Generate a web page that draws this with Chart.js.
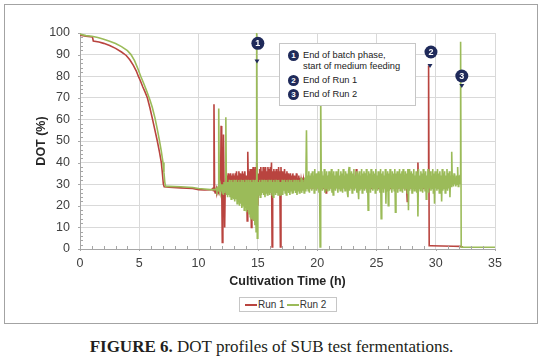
<!DOCTYPE html>
<html><head><meta charset="utf-8">
<script src="https://cdn.jsdelivr.net/npm/chart.js@4.4.1/dist/chart.umd.min.js"></script>
<style>
html,body{margin:0;padding:0;background:#fff;}
body{width:543px;height:356px;position:relative;overflow:hidden;font-family:"Liberation Sans",Arial,sans-serif;}
#frame{position:absolute;left:4px;top:4px;width:532px;height:318px;border:1px solid #a3a3a3;}
#c{position:absolute;left:0;top:0;}
#note{position:absolute;left:274px;top:38px;width:137px;height:63px;box-sizing:border-box;border:1px solid #c6c6c6;background:#fff;font-size:9.3px;color:#222;}
#note .dot{position:absolute;width:11px;height:11px;border-radius:50%;background:#1f2a5a;color:#fff;font-weight:bold;font-size:8px;line-height:11px;text-align:center;}
#note .t{position:absolute;left:23px;line-height:11px;white-space:nowrap;}
#legend{position:absolute;left:234px;top:292px;width:98px;height:15px;box-sizing:border-box;border:1px solid #c6c6c6;background:#fff;font-size:10px;color:#333;display:flex;align-items:center;padding-left:5px;white-space:nowrap;}
#legend .ln{display:inline-block;width:12px;height:2px;margin-right:1px;}
#caption{position:absolute;left:0;top:338px;width:543px;text-align:center;font-family:"Liberation Serif","Times New Roman",serif;font-size:17px;line-height:17px;color:#231f20;white-space:nowrap;}
</style>
</head><body>
<div id="frame">
  <canvas id="c" width="532" height="318"></canvas>
  <div id="note">
    <span class="dot" style="left:8px;top:6px;">1</span>
    <span class="t" style="top:6px;">End of batch phase,</span>
    <span class="t" style="top:17px;">start of medium feeding</span>
    <span class="dot" style="left:8px;top:31px;">2</span>
    <span class="t" style="top:31px;">End of Run 1</span>
    <span class="dot" style="left:8px;top:45px;">3</span>
    <span class="t" style="top:45px;">End of Run 2</span>
  </div>
  <div id="legend"><span class="ln" style="background:#b9443f"></span>Run 1<span class="ln" style="background:#9bbb59;margin-left:2px"></span>Run 2</div>
</div>
<div id="caption"><b>FIGURE 6.</b> DOT profiles of SUB test fermentations.</div>
<script>
// ---- data ----
const xTicks = [0, 5, 10, 15, 20, 25, 30, 35];
const yTicks = [0, 10, 20, 30, 40, 50, 60, 70, 80, 90, 100];

// Run 1: batch phase (explicit samples)
const run1Time = [0, 0.5, 1.05, 1.12, 1.6, 2.0, 2.5, 3.0, 3.5, 3.9, 4.2, 4.5, 4.75, 4.92, 5.1, 5.3, 5.5, 5.68, 5.9, 6.1, 6.3, 6.52, 6.7, 6.86, 6.95, 7.03, 7.1, 7.5, 8.5, 9.5, 10, 10.5, 11.1];
const run1Dot  = [99, 98.5, 98.2, 96.3, 95.8, 95.2, 94.2, 92.9, 91.2, 89.6, 87.6, 85, 82.4, 80, 77.8, 75, 72.5, 70, 65.3, 60.5, 55.5, 50, 45, 40, 35, 30, 28.8, 28.6, 28.3, 28, 27.5, 27.3, 27.5];
// Run 1: logged every 0.05 h from 11.2 h (one row per hour)
const run1LogStart = 11.2;
const run1LogStep = 0.05;
const run1Log = [
  /*11.2*/ 28,27,67,27,26,27,28,26,27,28, 27,28,30,27,57,31,
  /*12*/ 3,30,53,28,10,30,33,28,34,30, 35,29,34,30,35,31,34,30,35,31,
  /*13*/ 34,30,35,31,36,30,34,31,36,30, 35,31,34,30,36,31,35,30,36,31,
  /*14*/ 34,30,13,45,30,36,31,37,29,10, 37,28,38,29,37,30,38,29,40,30,
  /*15*/ 20,35,29,37,30,38,31,36,30,38, 31,37,30,38,31,36,30,38,31,37,
  /*16*/ 30,38,31,40,1,36,31,37,30,36, 31,37,30,36,31,38,30,36,1,38,
  /*17*/ 30,36,31,35,30,37,31,35,30,36, 31,35,30,34,31,35,30,34,31,35,
  /*18*/ 29,34,30,33,29,35,30,33,29,34, 30,33,29,32,30,33,29,32,30,33,
  /*19*/ 29,32,28,33,29,32,28,33,29,32, 28,33,29,32,28,33,29,32,28,33,
  /*20*/ 29,32,28,33,29,32,28,33,29,32, 28,33,29,32,28,26,32,29,33,28,
  /*21*/ 32,29,33,28,32,29,33,28,32,29, 33,28,32,29,33,28,32,29,33,28,
  /*22*/ 32,29,33,28,32,29,33,28,32,29, 33,28,32,29,33,28,32,29,33,28,
  /*23*/ 32,29,33,28,32,29,37,28,32,29, 33,28,32,29,33,28,32,29,33,28,
  /*24*/ 32,29,33,28,32,29,33,28,32,29, 33,28,32,29,33,28,32,29,33,28,
  /*25*/ 32,29,33,28,32,29,33,28,32,29, 33,28,32,29,33,28,32,29,33,28,
  /*26*/ 32,29,33,28,32,29,33,28,32,29, 33,28,32,29,33,28,32,29,33,28,
  /*27*/ 32,29,33,28,32,29,33,28,32,29, 33,28,22,29,33,28,32,29,33,28,
  /*28*/ 32,29,33,28,32,29,33,28,32,29, 40,28,32,29,33,28,32,29,33,28,
  /*29*/ 32,29,33,28,32,29,30,31,85,1.5
];
const run1TailTime = [29.6, 31.5, 32.1, 32.3];
const run1TailDot  = [1.5, 1.3, 1.2, 0.8];

// Run 2: batch phase (explicit samples)
const run2Time = [0, 0.5, 1.0, 1.5, 2.0, 2.5, 3.0, 3.5, 4.0, 4.3, 4.6, 4.9, 5.12, 5.35, 5.6, 5.9, 6.1, 6.33, 6.5, 6.69, 6.85, 7.0, 7.08, 7.15, 7.22, 7.5, 8.5, 9.5, 10, 10.5, 11, 11.4];
const run2Dot  = [99.5, 98.8, 98.5, 97.9, 97.1, 96.2, 95.1, 93.7, 91.8, 90, 87.2, 83.2, 80, 77, 73.5, 69, 65.5, 60.5, 56, 50.5, 45.5, 40, 35.5, 31, 29, 29, 28.8, 28.5, 28, 27.8, 27.5, 27.5];
// Run 2: logged every 0.05 h from 11.5 h (one row per hour)
const run2LogStart = 11.5;
const run2LogStep = 0.05;
const run2Log = [
  /*11.5*/ 28,27,28,27,65,27,26,29,27,30,
  /*12*/ 26,30,25,31,26,30,61,25,31,24, 31,25,32,24,31,23,32,24,31,23,
  /*13*/ 32,22,31,23,32,21,31,22,32,20, 31,21,32,19,31,20,32,18,31,19,
  /*14*/ 32,17,31,18,32,16,31,15,32,14, 31,15,32,13,31,11,32,8,100,5,
  /*15*/ 22,31,25,32,24,31,25,32,26,31, 25,32,24,31,26,32,25,31,26,32,
  /*16*/ 25,31,26,32,25,31,24,32,26,31, 25,32,26,31,25,32,26,31,25,31,
  /*17*/ 26,32,25,31,27,32,26,31,25,32, 27,31,26,32,25,31,27,32,26,31,
  /*18*/ 26,32,27,31,26,32,25,31,27,32, 26,31,27,33,26,32,27,31,26,33,
  /*19*/ 27,33,55,28,34,27,36,26,34,28, 35,27,36,28,34,26,37,28,35,27,
  /*20*/ 35,28,36,26,35,1,75,28,36,27, 34,28,37,26,35,28,36,27,34,28,
  /*21*/ 36,27,35,28,37,26,35,25,36,28, 34,27,36,28,35,26,37,28,34,27,
  /*22*/ 36,28,35,26,37,28,34,27,36,28, 35,26,24,36,38,27,35,28,36,26,
  /*23*/ 35,28,37,27,34,28,36,26,35,28, 23,36,27,34,28,37,26,35,28,36,
  /*24*/ 27,35,28,37,26,34,18,36,28,35, 26,37,28,34,27,36,28,35,26,37,
  /*25*/ 28,34,27,36,28,35,26,37,14,35, 28,36,26,34,28,37,21,35,27,36,
  /*26*/ 20,35,27,37,28,34,26,36,28,35, 27,37,17,35,28,36,26,34,28,37,
  /*27*/ 27,35,28,36,26,37,28,34,27,36, 28,35,26,37,18,37,27,35,28,36,
  /*28*/ 26,35,28,37,27,34,28,36,26,35, 15,37,28,34,27,36,28,35,26,37,
  /*29*/ 28,35,27,36,23,34,28,37,26,35, 28,36,27,34,28,37,26,35,21,36,
  /*30*/ 28,34,27,37,28,35,26,36,28,34, 22,37,27,35,28,36,26,34,28,37,
  /*31*/ 27,35,28,36,24,34,29,45,30,34, 29,35,30,33,29,34,30,38,29,34,
  /*32*/ 30,34,96,0.8
];
const run2TailTime = [35];
const run2TailDot  = [0.8];

// event markers (data coordinates)
const markerLabels = ['1', '2', '3'];
const markerTime = [15.0, 29.6, 32.2];
const markerDot  = [95.2, 91.2, 80.1];
const arrowTime  = [14.93, 29.52, 32.2];
const arrowDot   = [86.4, 84.3, 75.0];

function buildSeries(times, vals, logStart, logStep, log, tailT, tailV) {
  const pts = [];
  times.forEach((t, i) => pts.push({x: t, y: vals[i]}));
  log.forEach((v, i) => pts.push({x: Math.round((logStart + i * logStep) * 100) / 100, y: v}));
  tailT.forEach((t, i) => pts.push({x: t, y: tailV[i]}));
  return pts;
}

const run1Pts = buildSeries(run1Time, run1Dot, run1LogStart, run1LogStep, run1Log, run1TailTime, run1TailDot);
const run2Pts = buildSeries(run2Time, run2Dot, run2LogStart, run2LogStep, run2Log, run2TailTime, run2TailDot);

const NAVY = '#1f2a5a';
const AXIS = '#a6a6a6';
const GRID = '#d9d9d9';

const extras = {
  id: 'extras',
  afterDatasetsDraw(chart) {
    const {ctx, scales: {x, y}} = chart;
    ctx.save();
    for (let i = 0; i < markerLabels.length; i++) {
      const ax = x.getPixelForValue(arrowTime[i]);
      const ay = y.getPixelForValue(arrowDot[i]);
      ctx.fillStyle = NAVY;
      ctx.beginPath();
      ctx.moveTo(ax - 2.5, ay - 3);
      ctx.lineTo(ax + 2.5, ay - 3);
      ctx.lineTo(ax, ay + 1);
      ctx.closePath();
      ctx.fill();
      const mx = x.getPixelForValue(markerTime[i]);
      const my = y.getPixelForValue(markerDot[i]);
      ctx.beginPath();
      ctx.arc(mx, my, 6.5, 0, Math.PI * 2);
      ctx.fill();
      ctx.fillStyle = '#fff';
      ctx.font = 'bold 9px "Liberation Sans", Arial, sans-serif';
      ctx.textAlign = 'center';
      ctx.textBaseline = 'middle';
      ctx.fillText(markerLabels[i], mx, my + 0.5);
    }
    ctx.restore();
  },
  afterDraw(chart) {
    const {ctx, scales: {x, y}, chartArea} = chart;
    ctx.save();
    ctx.strokeStyle = AXIS;
    ctx.lineWidth = 1;
    ctx.beginPath();
    for (let t = 0; t <= 35; t += 1) {
      const px = Math.round(x.getPixelForValue(t)) + 0.5;
      ctx.moveTo(px, chartArea.bottom);
      ctx.lineTo(px, chartArea.bottom - (t % 5 === 0 ? 0 : 3));
      if (t % 5 === 0) { ctx.moveTo(px, chartArea.bottom); ctx.lineTo(px, chartArea.bottom + 2); }
    }
    for (let v = 0; v <= 100; v += 2) {
      const py = Math.round(y.getPixelForValue(v)) + 0.5;
      if (v % 10 === 0) { ctx.moveTo(chartArea.left, py); ctx.lineTo(chartArea.left - 2, py); }
      else { ctx.moveTo(chartArea.left, py); ctx.lineTo(chartArea.left + 3, py); }
    }
    ctx.stroke();
    ctx.restore();
  }
};

const tickFont = {family: '"Liberation Sans", Arial, sans-serif', size: 12.5};
const titleFont = {family: '"Liberation Sans", Arial, sans-serif', size: 12.5, weight: 'bold'};

new Chart(document.getElementById('c'), {
  type: 'line',
  data: {
    datasets: [
      {label: 'Run 1', data: run1Pts, borderColor: '#b9443f', borderWidth: 1.6, pointRadius: 0, tension: 0, order: 1},
      {label: 'Run 2', data: run2Pts, borderColor: '#9bbb59', borderWidth: 1.6, pointRadius: 0, tension: 0, order: 0}
    ]
  },
  options: {
    responsive: false,
    animation: false,
    devicePixelRatio: 1,
    events: [],
    layout: {padding: {left: 0, top: 28, right: 42, bottom: 33.5}},
    plugins: {legend: {display: false}, tooltip: {enabled: false}},
    scales: {
      x: {
        type: 'linear', min: 0, max: 35,
        afterBuildTicks: s => { s.ticks = xTicks.map(v => ({value: v})); },
        ticks: {font: tickFont, color: '#404040', padding: 6.8, maxRotation: 0, autoSkip: false},
        grid: {color: GRID, lineWidth: 1, drawTicks: false},
        border: {color: AXIS},
        title: {display: true, text: 'Cultivation Time (h)', font: titleFont, color: '#262626', padding: 0},
        afterFit: s => { s.height = 40.5; }
      },
      y: {
        min: 0, max: 100,
        afterBuildTicks: s => { s.ticks = yTicks.map(v => ({value: v})); },
        ticks: {font: tickFont, color: '#404040', padding: 10, autoSkip: false},
        grid: {color: GRID, lineWidth: 1, drawTicks: false},
        border: {color: AXIS},
        title: {display: true, text: 'DOT (%)', font: titleFont, color: '#262626', padding: {top: 29.2, bottom: 0}},
        afterFit: s => { s.width = 75; }
      }
    }
  },
  plugins: [extras]
});
</script>
</body></html>
